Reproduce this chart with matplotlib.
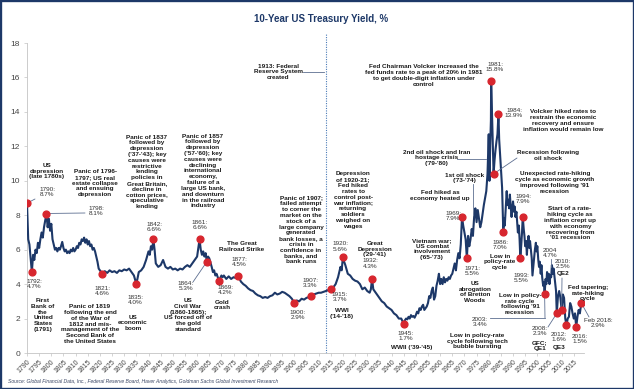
import matplotlib
matplotlib.use('Agg')
import matplotlib.pyplot as plt
from matplotlib.patches import Rectangle
from matplotlib.lines import Line2D

plt.rcParams['font.family'] = ['Liberation Sans', 'DejaVu Sans']

W, H = 634, 389

# ---------------- data ----------------
years_early = [1790, 1790.5, 1791, 1791.5, 1792, 1792.5, 1793, 1793.5, 1794, 1794.5, 1795, 1795.5,
               1796, 1796.5, 1797, 1797.5, 1798, 1798.5, 1799, 1799.5, 1800, 1800.5, 1801, 1801.5,
               1802, 1802.5, 1803, 1803.5, 1804, 1804.5, 1805, 1805.5, 1806, 1806.5, 1807, 1807.5,
               1808, 1808.5, 1809, 1809.5, 1810, 1810.5, 1811, 1811.5, 1812, 1812.5, 1813, 1813.5,
               1814, 1814.5, 1815, 1815.5, 1816, 1816.5, 1817, 1817.5, 1818, 1818.5, 1819, 1819.5,
               1820, 1820.5]
yields_early = [8.7, 6.6, 6.3, 5.5, 4.7, 5.7, 5.4, 6.0, 5.8, 6.4, 6.1, 6.6,
                7.0, 6.7, 7.3, 7.7, 8.1, 7.3, 7.8, 7.1, 7.5, 6.6, 6.3, 6.0,
                6.1, 5.9, 6.1, 6.0, 6.2, 6.45, 6.1, 5.9, 6.0, 5.8, 5.9, 5.8,
                6.0, 5.9, 6.1, 5.9, 6.0, 6.2, 6.1, 6.4, 6.3, 6.6, 6.5, 6.7,
                6.4, 6.6, 6.3, 6.5, 6.2, 6.3, 6.0, 6.1, 5.9, 5.6, 5.3, 4.9,
                4.8, 4.7]

years_19c = [1821, 1822, 1823, 1824, 1825, 1826, 1827, 1828, 1829, 1830, 1831, 1832, 1833, 1834,
             1835, 1836, 1837, 1838, 1839, 1840, 1840.5, 1841, 1841.5, 1842, 1842.5, 1843, 1844,
             1845, 1846, 1847, 1848, 1849, 1850, 1851, 1852, 1853, 1854, 1855, 1856, 1857, 1858,
             1859, 1860, 1860.5, 1861, 1861.5, 1862, 1862.5, 1863, 1863.5, 1864, 1864.5, 1865,
             1866, 1866.5, 1867, 1867.5, 1868, 1868.5, 1869, 1870, 1870.5, 1871, 1872, 1873, 1874,
             1875, 1876, 1877, 1877.5, 1878, 1879, 1880, 1881, 1882, 1883, 1884, 1885, 1886, 1887,
             1888, 1889, 1890, 1891, 1892, 1893, 1894, 1895, 1896, 1897, 1898, 1899, 1900, 1901,
             1902, 1903, 1904, 1905, 1906, 1907, 1908, 1909, 1910, 1911, 1912, 1913, 1914]
yields_19c = [4.6, 4.75, 4.65, 4.8, 4.7, 4.75, 4.65, 4.8, 4.75, 4.85, 4.8, 4.9, 4.7, 4.5,
              4.0, 4.7, 4.8, 5.0, 5.4, 5.9, 5.7, 6.2, 6.0, 6.6, 6.0, 5.2, 5.0,
              5.1, 5.4, 5.0, 4.9, 5.0, 4.85, 4.9, 4.8, 4.9, 4.85, 5.0, 5.1, 5.0, 5.2,
              5.4, 5.6, 6.1, 6.6, 6.0, 5.7, 5.9, 5.6, 5.8, 5.3, 5.6, 5.5,
              5.0, 4.7, 4.8, 4.5, 4.6, 4.4, 4.2, 4.5, 4.4, 4.5, 4.3, 4.45, 4.3,
              4.4, 4.35, 4.5, 4.3, 4.15, 4.0, 3.9, 3.75, 3.65, 3.6, 3.45, 3.35, 3.3, 3.2,
              3.25, 3.2, 3.3, 3.35, 3.5, 3.4, 3.45, 3.55, 3.5, 3.4, 3.3, 3.15, 2.9, 3.05,
              3.0, 3.15, 3.1, 3.2, 3.25, 3.3, 3.4, 3.45, 3.5, 3.5, 3.55, 3.6, 3.65]

years_20c = [1915, 1916, 1917, 1918, 1919, 1919.5, 1920, 1920.5, 1921, 1922, 1923, 1924, 1925,
             1926, 1927, 1928, 1929, 1930, 1931, 1931.5, 1932, 1932.5, 1933, 1934, 1935, 1936,
             1937, 1938, 1939, 1940, 1941, 1942, 1943, 1944, 1945, 1945.5, 1946, 1946.5, 1947,
             1947.5, 1948, 1948.5, 1949, 1949.5, 1950, 1950.5, 1951, 1951.5, 1952, 1952.5, 1953,
             1953.5, 1954, 1954.5, 1955, 1955.5, 1956, 1956.5, 1957, 1957.5, 1958, 1958.5, 1959,
             1959.5, 1960, 1960.5, 1961, 1961.5, 1962, 1962.5, 1963, 1963.5, 1964, 1964.5, 1965,
             1965.5, 1966, 1966.5, 1967, 1967.5, 1968, 1968.5, 1969, 1969.5, 1970, 1970.5, 1971,
             1971.5, 1972, 1972.5, 1973, 1973.5, 1974, 1974.5, 1975, 1975.5, 1976, 1976.5, 1977,
             1977.5, 1978, 1978.5, 1979, 1979.5, 1980, 1980.3, 1980.6, 1980.9, 1981, 1981.3,
             1981.6, 1982, 1982.4, 1982.8, 1983.2, 1983.6, 1984, 1984.3, 1984.7, 1985, 1985.5]
yields_20c = [3.7, 3.8, 4.0, 4.4, 5.0, 4.8, 5.6, 5.3, 5.1, 4.6, 4.5, 4.3, 4.2,
              4.15, 4.0, 3.7, 3.8, 3.6, 3.5, 3.7, 4.3, 3.7, 3.6, 3.4, 3.2, 3.0,
              2.9, 2.7, 2.6, 2.5, 2.3, 2.2, 2.0, 2.0, 1.7, 1.9, 2.0, 1.95, 2.1,
              2.0, 2.2, 2.1, 2.15, 2.05, 2.2, 2.4, 2.3, 2.6, 2.5, 2.7, 2.8,
              2.5, 2.6, 2.7, 2.9, 3.3, 3.2, 3.6, 3.8, 3.1, 3.3, 3.9, 4.2,
              4.6, 4.0, 4.3, 4.0, 4.4, 4.1, 4.3, 4.2, 4.4, 4.3, 4.5, 4.6,
              4.9, 5.2, 4.8, 5.4, 5.8, 5.5, 6.3, 7.9, 7.4, 7.0, 6.6, 5.5,
              6.8, 6.2, 6.6, 7.2, 6.8, 7.9, 8.4, 7.6, 8.3, 7.8, 7.3, 7.6,
              8.1, 8.6, 9.0, 9.4, 10.4, 12.7, 10.0, 12.0, 13.5, 15.8, 14.2,
              12.5, 10.4, 11.2, 11.8, 12.3, 12.7, 13.9, 12.4, 11.5, 10.8, 9.6]

years_late = [1986, 1986.3, 1986.6, 1987, 1987.4, 1987.7, 1988, 1988.4, 1988.7, 1989, 1989.4,
              1989.7, 1990, 1990.4, 1990.7, 1991, 1991.4, 1991.7, 1992, 1992.4, 1992.7, 1993,
              1993.4, 1993.7, 1994, 1994.4, 1994.7, 1995, 1995.4, 1995.7, 1996, 1996.4, 1996.7,
              1997, 1997.4, 1997.7, 1998, 1998.4, 1998.7, 1999, 1999.4, 1999.7, 2000, 2000.4,
              2000.7, 2001, 2001.4, 2001.7, 2002, 2002.4, 2002.7, 2003, 2003.4, 2003.7, 2004,
              2004.4, 2004.7, 2005, 2005.4, 2005.7, 2006, 2006.4, 2006.7, 2007, 2007.4, 2007.7,
              2008, 2008.5, 2009, 2009.5, 2010, 2010.5, 2011, 2011.5, 2012, 2012.5, 2013, 2013.5,
              2014, 2014.5, 2015, 2015.5, 2016, 2016.5, 2017, 2017.5, 2018.1]
yields_late = [7.0, 7.8, 7.4, 8.4, 9.4, 8.6, 8.9, 8.4, 9.2, 8.6, 7.9,
               8.4, 8.8, 8.2, 8.5, 7.9, 8.2, 7.6, 7.0, 7.4, 6.6, 5.5,
               6.3, 7.0, 7.9, 7.2, 6.8, 6.2, 6.5, 5.7, 6.4, 6.8, 6.1,
               6.5, 5.9, 5.5, 4.5, 5.1, 5.6, 6.0, 6.4, 5.9, 6.2, 5.4,
               5.0, 5.3, 4.6, 5.1, 4.4, 3.9, 4.1, 3.4, 4.3, 4.0, 4.7,
               4.2, 4.6, 4.0, 4.5, 4.4, 5.1, 4.6, 4.9, 4.5, 4.0, 3.6,
               2.3, 3.3, 3.6, 3.2, 2.5, 3.4, 3.2, 2.0, 1.6, 2.0, 2.1, 2.9,
               2.7, 2.3, 2.0, 2.3, 1.5, 2.1, 2.5, 2.3, 2.9]

years = years_early + years_19c + years_20c + years_late
yields = yields_early + yields_19c + yields_20c + yields_late

# highlighted points (red dots)
dot_years = [1790, 1792, 1798, 1821, 1835, 1842, 1861, 1864, 1869, 1877, 1900, 1907, 1915,
             1920, 1932, 1945, 1969, 1971, 1981, 1982, 1984, 1986, 1993, 1994, 2003, 2008,
             2010, 2012, 2016, 2018.1]
dot_values = [yields[years.index(y)] for y in dot_years]

fed_year = 1913
x_ticks = list(range(1790, 2016, 5))
y_ticks = list(range(0, 19, 2))

title = "10-Year US Treasury Yield, %"
source = ("Source: Global Financial Data, Inc., Federal Reserve Board, Haver Analytics, "
          "Goldman Sachs Global Investment Research")

# ---------------- figure ----------------
NAVY = '#1d3868'
RED = '#d7262e'
LEAD = '#5d6f91'

fig = plt.figure(figsize=(W / 100, H / 100), dpi=100)
ax = fig.add_axes([27 / W, 1 - 353 / H, (583.5 - 27) / W, (353 - 43) / H])
ax.set_xlim(1790, 2019)
ax.set_ylim(0, 18)

ax.plot(years, yields, color=NAVY, lw=1.5, solid_joinstyle='round', zorder=3)
ax.plot(dot_years, dot_values, 'o', color=RED, mec=RED, ms=4.9, zorder=5)
ax.plot([fed_year, fed_year], [0, 18.6], color='#4a7bb7', lw=0.8, ls=(0, (1, 1.2)),
        clip_on=False, zorder=2)

for s in ['top', 'right']:
    ax.spines[s].set_visible(False)
for s in ['left', 'bottom']:
    ax.spines[s].set_color('#c4c4c4')
    ax.spines[s].set_linewidth(0.6)
ax.set_yticks(y_ticks)
ax.set_yticklabels([str(v) for v in y_ticks])
ax.set_xticks(x_ticks)
ax.set_xticklabels([str(t) for t in x_ticks], rotation=45, ha='right', va='top',
                   rotation_mode='anchor')
ax.tick_params(axis='both', direction='out', length=2.5, width=0.5, color='#c4c4c4',
               labelcolor='#444444')
ax.tick_params(axis='y', labelsize=6.0, pad=2.5)
ax.tick_params(axis='x', labelsize=5.0, pad=1.5)


def P(px, py):
    return (px / W, 1 - py / H)


def put(txt, px, py, bold=True, size=4.6, ha='center'):
    fig.text(px / W, 1 - py / H, txt, ha=ha, va='center', fontsize=size,
             fontweight='bold' if bold else 'normal', linespacing=1.2,
             color='#1a1a1a' if bold else '#333333', zorder=6)


def lead_to(year, px, py):
    ax.annotate('', xy=(year, yields[years.index(year)]), xycoords='data',
                xytext=P(px, py), textcoords='figure fraction',
                arrowprops=dict(arrowstyle='-', color=LEAD, lw=0.6, shrinkA=0, shrinkB=2.5))


def fline(x1, y1, x2, y2):
    a, b = P(x1, y1)
    c, d = P(x2, y2)
    fig.add_artist(Line2D([a, c], [b, d], transform=fig.transFigure, color=LEAD, lw=0.6))


# title / source / frame
fig.text(321 / W, 1 - 19 / H, title, ha='center', va='center', fontsize=7.0,
         fontweight='bold', color=NAVY)
fig.text(8 / W, 1 - 382 / H, source, ha='left', va='center', fontsize=3.6,
         style='italic', color='#3a4664')
fig.add_artist(Rectangle((0, 0), 1, 1, transform=fig.transFigure, fill=False,
                         ec=NAVY, lw=2.4))

# ---------------- annotations ----------------
put("US\ndepression\n(late 1780s)", 47, 171)
put("1790:\n8.7%", 47, 192, bold=False)
put("Panic of 1796-\n1797; US real\nestate collapse\nand ensuing\ndepression", 95, 183)
put("1798:\n8.1%", 96, 211, bold=False)
put("1792:\n4.7%", 34, 284, bold=False)
put("First\nBank of\nthe\nUnited\nStates\n(1791)", 43, 315)
put("Panic of 1819\nfollowing the end\nof the War of\n1812 and mis-\nmanagement of the\n"
    "Second Bank of\nthe United States", 90, 324)
put("1821:\n4.6%", 102, 291, bold=False)
put("1835:\n4.0%", 135, 300, bold=False)
put("US\neconomic\nboom", 133, 323)
put("Panic of 1837\nfollowed by\ndepression\n('37-'43); key\ncauses were\nrestrictive\nlending\n"
    "policies in\nGreat Britain,\ndecline in\ncotton prices,\nspeculative\nlending", 147, 172)
put("1842:\n6.6%", 154, 227, bold=False)
put("Panic of 1857\nfollowed by\ndepression\n('57-'60); key\ncauses were\ndeclining\n"
    "international\neconomy,\nfailure of a\nlarge US bank,\nand downturn\nin the railroad\nindustry",
    203, 171)
put("1861:\n6.6%", 200, 225, bold=False)
put("1864:\n5.3%", 186, 286, bold=False)
put("US\nCivil War\n(1860-1865);\nUS forced off of\nthe gold\nstandard", 188, 315)
put("1869:\n4.2%", 225, 290, bold=False)
put("Gold\ncrash", 222, 305)
put("The Great\nRailroad Strike", 242, 246.5)
put("1877:\n4.5%", 239, 262, bold=False)
put("Panic of 1907;\nfailed attempt\nto corner the\nmarket on the\nstock of a\nlarge company\n"
    "generated\nbank losses, a\ncrisis in\nconfidence in\nbanks, and\nbank runs", 301, 230)
put("1907:\n3.3%", 310, 283, bold=False)
put("1900:\n2.9%", 298, 315, bold=False)
put("1913: Federal\nReserve System\ncreated", 278, 72)
put("Depression\nof 1920-21;\nFed hiked\nrates to\ncontrol post-\nwar inflation;\nreturning\n"
    "soldiers\nweighed on\nwages", 353, 200)
put("1920:\n5.6%", 340, 246.5, bold=False)
put("Great\nDepression\n('29-'41)", 375, 249)
put("1932:\n4.3%", 370, 263.5, bold=False)
put("1915:\n3.7%", 340, 297, bold=False)
put("WWI\n('14-'18)", 342, 313.5)
put("1945:\n1.7%", 406, 336, bold=False)
put("WWII ('39-'45)", 412, 348)
put("Vietnam war;\nUS combat\ninvolvement\n('65-'73)", 432, 249)
put("Fed hiked as\neconomy heated up", 440, 195.5)
put("1969:\n7.9%", 453, 216, bold=False)
put("1971:\n5.5%", 472, 271, bold=False)
put("US\nabrogation\nof Bretton\nWoods", 475, 292)
put("1st oil shock\n('73-'74)", 465, 178)
put("2nd oil shock and Iran\nhostage crisis\n('79-'80)", 437, 158)
put("Fed Chairman Volcker increased the\nfed funds rate to a peak of 20% in 1981\n"
    "to get double-digit inflation under\ncontrol", 424, 75.5)
put("1981:\n15.8%", 495, 67, bold=False)
put("1984:\n13.9%", 514, 113, bold=False)
put("Volcker hiked rates to\nrestrain the economic\nrecovery and ensure\n"
    "inflation would remain low", 563, 120.5)
put("Recession following\noil shock", 548, 155.5)
put("Unexpected rate-hiking\ncycle as economic growth\nimproved following '91\nrecession", 555, 182.5)
put("1994:\n7.9%", 523, 199, bold=False)
put("Start of a rate-\nhiking cycle as\ninflation crept up\nwith economy\nrecovering from\n"
    "'01 recession", 570, 223.5)
put("1986:\n7.0%", 500, 245, bold=False)
put("Low in\npolicy-rate\ncycle", 500, 262)
put("1993:\n5.5%", 521, 278, bold=False)
put("Low in policy-\nrate cycle\nfollowing '91\nrecession", 520, 304)
put("2004\n4.7%", 550, 253, bold=False)
put("2010:\n2.5%", 563, 264, bold=False)
put("QE2", 563, 274)
put("Fed tapering;\nrate-hiking\ncycle", 588, 293)
put("Feb 2018:\n2.9%", 598, 323, bold=False)
put("2016:\n1.5%", 580, 339, bold=False)
put("2012:\n1.6%", 559, 337, bold=False)
put("QE3", 559, 348)
put("2008:\n2.3%", 540, 331, bold=False)
put("GFC;\nQE1", 540, 346)
put("2003:\n3.4%", 480, 322, bold=False)
put("Low in policy-rate\ncycle following tech\nbubble bursting", 477, 341)

# leader lines
lead_to(1790, 35, 199)
lead_to(1798, 85, 213)
lead_to(1864, 193, 282)
lead_to(1982, 517, 158)
lead_to(2010, 562, 278)
lead_to(2003, 545, 318)
lead_to(2008, 548, 327)
lead_to(2018.1, 589, 317)
fline(303, 72, 324, 72)
fline(473, 184, 473, 214)
fline(457, 159, 486, 159)
fline(490, 318, 545, 318)
fline(551, 259, 551, 267)

fig.savefig('out.png', dpi=100)
